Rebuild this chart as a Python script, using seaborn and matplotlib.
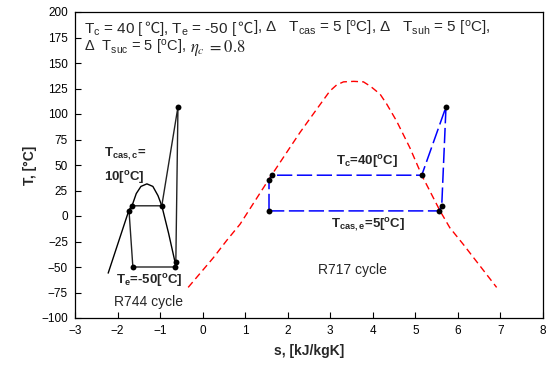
import matplotlib
matplotlib.use("Agg")
import matplotlib.pyplot as plt
import seaborn as sns

sns.set_theme(style="white")
plt.rcParams['font.family'] = ['Liberation Sans', 'DejaVu Sans']
plt.rcParams['mathtext.fontset'] = 'custom'
plt.rcParams['mathtext.rm'] = 'Liberation Sans'
plt.rcParams['mathtext.it'] = 'Liberation Sans:italic'
plt.rcParams['mathtext.bf'] = 'Liberation Sans:bold'
plt.rcParams['mathtext.default'] = 'regular'

# R717 saturation dome (red dashed)
r717_dome_s = [-0.34, 0.25, 0.565, 0.88, 1.58, 2.05, 2.29, 2.60, 2.99, 3.15, 3.31, 3.55, 3.78,
               3.95, 4.17, 4.33, 4.56, 4.87, 5.15, 5.58, 5.81, 6.13, 6.91]
r717_dome_T = [-70, -41, -24, -8, 37.5, 67, 82, 100, 122.5, 128.5, 131.5, 132, 131.5,
               127, 119.5, 109.5, 93, 67, 40, 5, -11.5, -28, -70]

# R717 cycle (blue dashed)
r717_cyc_s = [1.56, 5.55, 5.62, 5.72, 5.15, 1.63, 1.56, 1.56]
r717_cyc_T = [5, 5, 10, 107, 40, 40, 35, 5]

# R744 saturation dome (black)
r744_dome_s = [-2.22, -1.73, -1.66, -1.56, -1.45, -1.31, -1.17, -1.05, -0.96, -0.8, -0.65, -0.62]
r744_dome_T = [-56, 6, 10, 22, 29, 31.5, 29, 20, 10, -17, -45, -52]

# R744 cycle (black)
r744_cyc_s = [-1.64, -0.65, -0.63, -0.58, -0.96, -1.66, -1.73, -1.64]
r744_cyc_T = [-50, -50, -45, 107, 10, 10, 5, -50]

x_ticks = list(range(-3, 9))
y_ticks = list(range(-100, 201, 25))

fig = plt.figure(figsize=(5.5, 3.67), dpi=100)
ax = fig.add_axes([75/550, 1-318/367, (543-75)/550, (318-12)/367])

sns.lineplot(x=r717_dome_s, y=r717_dome_T, sort=False, estimator=None, ax=ax,
             color='red', lw=1.0, linestyle=(0, (5, 3)))
sns.lineplot(x=r717_cyc_s, y=r717_cyc_T, sort=False, estimator=None, ax=ax,
             color='blue', lw=1.1, linestyle=(0, (10, 3)))
sns.scatterplot(x=r717_cyc_s[:-1], y=r717_cyc_T[:-1], ax=ax, color='black', s=18,
                edgecolor='black', linewidth=0, zorder=5)

sns.lineplot(x=r744_dome_s, y=r744_dome_T, sort=False, estimator=None, ax=ax,
             color='black', lw=1.0)
sns.lineplot(x=r744_cyc_s, y=r744_cyc_T, sort=False, estimator=None, ax=ax,
             color='#222222', lw=1.0)
sns.scatterplot(x=r744_cyc_s[:-1], y=r744_cyc_T[:-1], ax=ax, color='black', s=18,
                edgecolor='black', linewidth=0, zorder=5)

ax.set_xlim(-3, 8)
ax.set_ylim(-100, 200)
ax.set_xticks(x_ticks)
ax.set_yticks(y_ticks)
ax.tick_params(direction='in', length=4, width=0.8, labelsize=8.5, colors='black',
               bottom=True, left=True, top=False, right=False, pad=5)
for sp in ax.spines.values():
    sp.set_color('black')
    sp.set_linewidth(0.9)

ax.set_xlabel('s, [kJ/kgK]', fontsize=10, fontweight='bold', labelpad=5)
ax.set_ylabel('T, [°C]', fontsize=10, fontweight='bold', labelpad=3)

# parameter text, drawn piece by piece on a common baseline (pixel coords)
renderer = fig.canvas.get_renderer()
W, H = fig.get_size_inches() * fig.dpi


def chain(pieces, x0, y0):
    x = x0
    for txt, kw in pieces:
        t = fig.text(x / W, 1 - y0 / H, txt, ha='left', va='baseline', **kw)
        x = t.get_window_extent(renderer=renderer).x1


base1 = dict(fontsize=11)
sym1 = dict(fontsize=11, family=['Noto Sans CJK SC', 'DejaVu Sans'])
base2 = dict(fontsize=10.5)
line1 = [
    ('T$_c$ = 40 [', base1), ('℃', sym1), ('], T$_e$ = -50 [', base1), ('℃', sym1),
    ('], Δ   T$_{cas}$ = 5 [$^o$C], Δ   T$_{suh}$ = 5 [$^o$C],', base1),
]
line2 = [
    ('Δ  T$_{suc}$ = 5 [$^o$C],', base2),
    (r'$\ \mathit{\eta}_{\mathit{c}}\ \mathrm{= 0.8}$', dict(fontsize=12, math_fontfamily='stix')),
]
chain(line1, 84, 33)
chain(line2, 84, 52)

bold = dict(fontsize=9.5, fontweight='bold', ha='center', va='center')
ax.text(-1.83, 61, 'T$_{\\mathbf{cas,c}}$=', **bold)
ax.text(-1.83, 38, '10[$^o$C]', **bold)
ax.text(-1.25, -63, 'T$_{\\mathbf{e}}$=-50[$^o$C]', **bold)
ax.text(3.86, 53, 'T$_{\\mathbf{c}}$=40[$^o$C]', **bold)
ax.text(3.89, -9, 'T$_{\\mathbf{cas,e}}$=5[$^o$C]', **bold)
ax.text(-1.28, -84, 'R744 cycle', fontsize=10, ha='center', va='center')
ax.text(3.51, -53, 'R717 cycle', fontsize=10, ha='center', va='center')

fig.savefig('out.png', dpi=100)
